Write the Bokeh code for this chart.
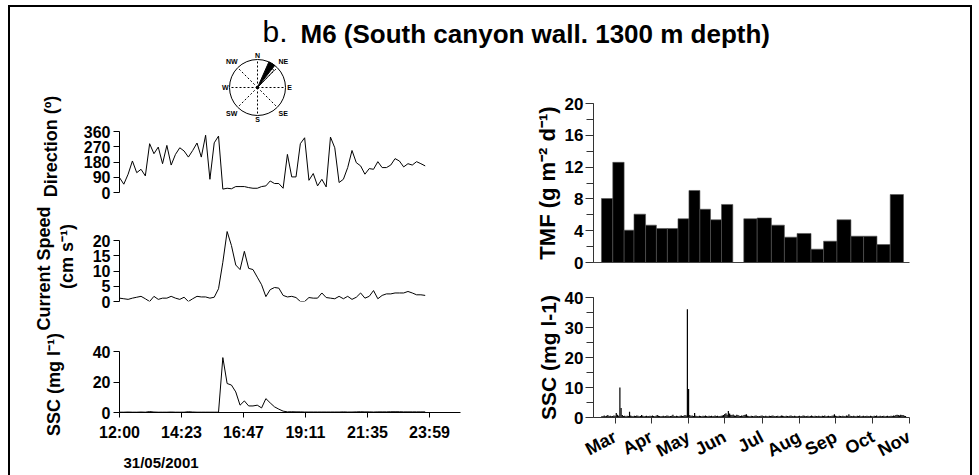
import math
from datetime import date
from bokeh.plotting import figure
from bokeh.layouts import column, row
from bokeh.models import Range1d, FixedTicker, SingleIntervalTicker, Label, Spacer
from bokeh.embed import file_html
from bokeh.resources import INLINE
from bokeh.core.properties import value

FONT = "Liberation Sans"

# ---------------- data ----------------
title_letter = "b."
title_text = "M6 (South canyon wall. 1300 m depth)"

record_date = "31/05/2001"
start_minute = 720          # 12:00
step_minutes = 10
direction_deg = [88, 49, 108, 186, 117, 137, 98, 288, 229, 268,
                 170, 278, 162, 225, 264, 245, 209, 248, 292, 209,
                 338, 78, 293, 333, 20, 25, 22, 35, 35, 35,
                 29, 25, 25, 35, 39, 68, 53, 53, 25, 225,
                 92, 92, 288, 323, 72, 112, 39, 78, 33, 327,
                 264, 59, 78, 147, 248, 176, 157, 108, 141, 137,
                 182, 147, 147, 162, 200, 186, 151, 170, 162, 182,
                 170, 157]
speed_cms = [1.1, 0.9, 0.7, 1.1, 1.4, 1.7, 0.9, 0.0, 1.7, 0.7,
             1.1, 1.1, 1.7, 1.1, 0.7, 1.4, 0.0, 0.9, 1.7, 1.5,
             1.5, 1.1, 1.4, 4.2, 12.9, 23.0, 18.4, 12.0, 10.5, 16.5,
             10.9, 10.5, 8.0, 5.5, 1.6, 3.9, 4.6, 4.4, 2.0, 1.5,
             1.7, 1.3, 0.0, 0.0, 1.3, 1.1, 1.1, 2.8, 1.3, 1.1,
             0.9, 1.7, 0.9, 1.7, 0.7, 1.4, 2.8, 1.1, 1.7, 3.6,
             0.9, 2.0, 2.5, 2.5, 2.8, 2.8, 2.8, 3.3, 2.8, 2.2,
             2.2, 2.0]
ssc_event = [0.2, 0.2, 0.3, 0.2, 0.2, 0.3, 0.2, 0.6, 0.3, 0.2,
             0.2, 0.2, 0.3, 0.2, 0.2, 0.2, 0.5, 0.3, 0.2, 0.2,
             0.2, 0.2, 0.2, 0.2, 36.0, 19.0, 18.0, 13.5, 4.8, 7.6,
             4.3, 4.3, 4.8, 3.0, 9.1, 6.3, 3.7, 2.2, 0.9, 0.4,
             0.5, 0.4, 0.4, 0.3, 0.3, 0.3, 0.3, 0.3, 0.3, 0.3,
             0.3, 0.3, 0.4, 0.3, 0.3, 0.4, 0.5, 0.4, 0.4, 0.3,
             0.4, 0.4, 0.4, 0.5, 0.5, 0.5, 0.4, 0.4, 0.4, 0.4,
             0.4, 0.4]
time_tick_minutes = [720, 864, 1008, 1152, 1296, 1440]
time_tick_labels = ["12:00", "14:23", "16:47", "19:11", "21:35", "23:59"]
direction_ticks = [0, 90, 180, 270, 360]
speed_ticks = [0, 5, 10, 15, 20]
ssc_event_ticks = [0, 20, 40]
left_titles = ["Direction (º)", "Current Speed", "(cm s⁻¹)", "SSC (mg l⁻¹)"]

compass_points = ["N", "NE", "E", "SE", "S", "SW", "W", "NW"]
compass_bearings = [0, 45, 90, 135, 180, 225, 270, 315]
rose_from = [24, 38]
rose_to = [38, 44]
rose_length = [1.0, 0.85]

tmf_start_doy = [79.7, 89.1, 98.5, 106.7, 116.3, 125.3, 134.4, 143.2, 152.3, 161.4, 170.2, 179.3,
                 197.8, 208.9, 220.7, 231.5, 242.0, 253.6, 264.0, 275.1, 286.7, 297.2, 308.3, 319.3]
tmf_end_doy = [89.1, 98.5, 106.7, 116.3, 125.3, 134.4, 143.2, 152.3, 161.4, 170.2, 179.3, 188.7,
               208.9, 220.7, 231.5, 242.0, 253.6, 264.0, 275.1, 286.7, 297.2, 308.3, 319.3, 330.3]
tmf_flux = [8.05, 12.6, 4.07, 6.08, 4.7, 4.28, 4.28, 5.5, 9.06, 6.7, 5.37, 7.3,
            5.5, 5.6, 4.7, 3.19, 3.65, 1.68, 2.68, 5.37, 3.31, 3.31, 2.26, 8.55]

ssc_first_doy = 80
ssc_daily = [0.4, 0.5, 0.7, 0.4, 0.6, 0.8, 0.5, 0.6, 0.4, 0.5,
             0.7, 0.6, 1.5, 0.9, 0.6, 10.0, 3.2, 0.8, 0.5, 0.6,
             0.4, 0.6, 0.5, 1.9, 0.7, 0.5, 0.4, 0.6, 0.5, 0.7,
             0.6, 0.4, 0.5, 0.8, 0.6, 0.4, 0.5, 0.6, 0.4, 0.5,
             0.6, 0.5, 0.7, 0.5, 0.4, 0.6, 0.8, 0.6, 0.5, 0.4,
             0.5, 0.6, 0.4, 0.5, 0.7, 0.6, 0.4, 0.5, 0.6, 0.9,
             0.5, 0.4, 0.6, 0.5, 0.4, 0.6, 0.7, 0.5, 0.6, 0.8,
             0.7, 36.1, 9.5, 0.8, 0.6, 0.7, 0.5, 1.5, 0.6, 0.5,
             0.4, 0.6, 0.5, 0.4, 0.6, 0.5, 0.7, 0.5, 0.4, 0.6,
             0.5, 0.6, 0.4, 0.5, 0.7, 0.5, 0.6, 0.4, 0.5, 0.6,
             0.7, 0.8, 1.2, 1.4, 0.9, 2.2, 1.3, 0.9, 0.8, 1.0,
             0.7, 0.6, 0.9, 0.8, 0.6, 0.5, 0.7, 0.6, 0.8, 0.9,
             1.1, 0.6, 0.5, 0.4, 0.6, 0.5, 0.4, 0.6, 0.7, 0.5,
             0.4, 0.5, 0.6, 0.7, 0.5, 0.4, 0.6, 0.5, 0.4, 0.6,
             0.5, 0.6, 0.7, 0.5, 0.4, 0.5, 0.6, 0.4, 0.5, 0.7,
             0.6, 0.5, 0.4, 0.6, 0.5, 0.4, 0.6, 0.7, 0.5, 0.4,
             0.6, 0.5, 0.4, 0.5, 0.6, 0.4, 0.5, 0.7, 0.6, 0.4,
             0.5, 0.6, 0.4, 0.5, 0.7, 0.5, 0.4, 0.6, 0.5, 0.4,
             0.6, 0.5, 0.4, 0.6, 0.5, 0.7, 0.4, 0.5, 0.6, 0.4,
             0.5, 0.6, 0.7, 1.1, 0.6, 0.5, 0.4, 0.6, 0.5, 0.4,
             0.6, 0.5, 0.4, 0.7, 0.6, 1.1, 0.6, 0.5, 0.4, 0.6,
             0.5, 0.4, 0.6, 0.5, 0.7, 0.4, 0.5, 0.6, 0.4, 0.5,
             0.6, 0.5, 0.4, 0.6, 0.5, 0.4, 0.6, 0.5, 0.7, 0.4,
             0.5, 0.6, 0.4, 0.5, 0.6, 0.4, 0.5, 0.6, 0.4, 0.5,
             0.6, 0.5, 0.7, 0.6, 0.8, 0.9, 0.8, 0.7, 0.9, 0.8,
             0.8, 0.6, 0.5]
month_labels = ["Mar", "Apr", "May", "Jun", "Jul", "Aug", "Sep", "Oct", "Nov"]
month_end_ticks = [date(2001, m, 1).timetuple().tm_yday for m in range(4, 13)]

# ---------------- helpers ----------------
minutes = [start_minute + step_minutes * i for i in range(len(direction_deg))]
ssc_days = [ssc_first_doy + i for i in range(len(ssc_daily))]


def blank(w, h, xr, yr):
    p = figure(width=w, height=h, x_range=xr, y_range=yr, min_border=0, title=None,
               x_axis_location=None, y_axis_location=None, output_backend="svg",
               toolbar_location=None, frame_align=False)
    p.grid.visible = False
    p.outline_line_color = None
    return p


def panel(w, h, xr, yr, bl, br, bt, bb, xaxis=True):
    p = figure(width=w, height=h, x_range=xr, y_range=yr, output_backend="svg", title=None,
               toolbar_location=None, x_axis_location="below" if xaxis else None,
               y_axis_location="left", min_border_left=bl, min_border_right=br,
               min_border_top=bt, min_border_bottom=bb)
    p.grid.visible = False
    p.outline_line_color = None
    return p


def style_axis(ax, size, color="black", label_size="18px"):
    ax.axis_line_color = color
    ax.axis_line_width = 1
    ax.major_tick_line_color = color
    ax.minor_tick_line_color = color
    ax.major_tick_in = 0
    ax.minor_tick_in = 0
    ax.major_label_text_font = FONT
    ax.major_label_text_font_style = "bold"
    ax.major_label_text_font_size = size
    ax.major_label_text_color = "black"
    ax.axis_label_text_font = FONT
    ax.axis_label_text_font_style = "bold"
    ax.axis_label_text_font_size = label_size
    ax.axis_label_text_color = "black"


def txt(p, x, y, s, size, bold=True, angle=0.0, align="center", baseline="middle"):
    p.add_layout(Label(x=x, y=y, text=s, text_font=FONT, text_font_size=size,
                       text_font_style="bold" if bold else "normal", text_color="black",
                       angle=angle, text_align=align, text_baseline=baseline))


# title strip (page y 7..50)
TH = 43
title_p = blank(960, TH, Range1d(0, 960), Range1d(0, TH))
txt(title_p, 252, 19, title_letter, "30px", bold=False, align="left", baseline="middle")
txt(title_p, 290, 17, title_text, "26px", align="left", baseline="middle")

# left axis titles strip (page y 50..475)
LH = 425
lab_p = blank(70, LH, Range1d(0, 70), Range1d(0, LH))
txt(lab_p, 40, 329, left_titles[0], "18px", angle=math.pi / 2)
txt(lab_p, 33, 207, left_titles[1], "18px", angle=math.pi / 2)
txt(lab_p, 56, 219, left_titles[2], "18px", angle=math.pi / 2)
txt(lab_p, 43, 91, left_titles[3], "18px", angle=math.pi / 2)

# compass rose (page y 50..123)
R = 28.0
cw, ch, cy = 110, 73, 37
comp = blank(cw, ch, Range1d(-cw / 2 / R, cw / 2 / R), Range1d(-(ch - cy) / R, cy / R))
bx = [math.sin(math.radians(b)) for b in compass_bearings]
by = [math.cos(math.radians(b)) for b in compass_bearings]
comp.segment(x0=[0] * 8, y0=[0] * 8, x1=bx, y1=by, line_color="black", line_width=1, line_dash="2 2")
comp.wedge(x=[0, 0], y=[0, 0], radius=rose_length,
           start_angle=[math.radians(90 - b) for b in rose_to],
           end_angle=[math.radians(90 - b) for b in rose_from],
           fill_color=["black", "white"], line_color="black", line_width=1)
comp.circle(x=[0], y=[0], radius=1, fill_color=None, line_color="black", line_width=1)
lr = [1.15 if len(s) == 1 else 1.3 for s in compass_points]
comp.text(x=[r * v for r, v in zip(lr, bx)], y=[r * v for r, v in zip(lr, by)], text=compass_points,
          text_font=value(FONT), text_font_style="bold", text_font_size="7px",
          text_align="center", text_baseline="middle", text_color="black")

LX = Range1d(720, 1512)
PW, BL, BR = 430, 36, 50

# direction (page y 123..205)
dir_p = panel(PW, 82, LX, Range1d(0, 360), BL, BR, 8, 13, xaxis=False)
dir_p.line(minutes, direction_deg, line_color="black", line_width=1)
dir_p.yaxis.ticker = FixedTicker(ticks=direction_ticks, minor_ticks=[])
style_axis(dir_p.yaxis[0], "16px")
dir_p.yaxis.major_tick_out = 6
dir_p.yaxis.major_label_standoff = 3

# speed (page y 205..310)
spd_p = panel(PW, 105, LX, Range1d(0, 24), BL, BR, 23, 9, xaxis=False)
spd_p.line(minutes, speed_cms, line_color="black", line_width=1)
spd_p.yaxis.ticker = FixedTicker(ticks=speed_ticks, minor_ticks=[])
spd_p.yaxis.bounds = (0, 20)
style_axis(spd_p.yaxis[0], "16px")
spd_p.yaxis.major_tick_out = 6
spd_p.yaxis.major_label_standoff = 3

# ssc event (page y 310..447)
sscl_p = panel(PW, 137, LX, Range1d(0, 40), BL, BR, 41, 35)
sscl_p.line(minutes, ssc_event, line_color="black", line_width=1)
sscl_p.yaxis.ticker = FixedTicker(ticks=ssc_event_ticks, minor_ticks=[])
sscl_p.xaxis.ticker = FixedTicker(ticks=time_tick_minutes, minor_ticks=[])
sscl_p.xaxis.major_label_overrides = dict(zip(time_tick_minutes, time_tick_labels))
style_axis(sscl_p.yaxis[0], "16px")
style_axis(sscl_p.xaxis[0], "16px")
sscl_p.yaxis.major_tick_out = 6
sscl_p.yaxis.major_label_standoff = 3
sscl_p.xaxis.major_tick_out = 5
sscl_p.xaxis.major_label_standoff = 6

date_p = blank(PW, 28, Range1d(0, PW), Range1d(0, 28))
txt(date_p, 43, 13, record_date, "15px", align="left")

# TMF (page y 50..280)
RX = Range1d(73.1, 335.3)
tmf_p = panel(460, 230, RX, Range1d(0, 20), 83, 61, 53, 18)
tmf_p.quad(left=tmf_start_doy, right=tmf_end_doy, bottom=0, top=tmf_flux,
           fill_color="black", line_color="#555555", line_width=0.6)
tmf_p.yaxis.ticker = SingleIntervalTicker(interval=4, num_minor_ticks=2)
tmf_p.xaxis.ticker = FixedTicker(ticks=[], minor_ticks=[])
style_axis(tmf_p.yaxis[0], "17px", color="#333333", label_size="22px")
style_axis(tmf_p.xaxis[0], "16px", color="#444444")
tmf_p.yaxis.major_tick_out = 8
tmf_p.yaxis.minor_tick_out = 7
tmf_p.yaxis.major_label_standoff = 2
tmf_p.yaxis.axis_label = "TMF (g m⁻² d⁻¹)"
tmf_p.yaxis.axis_label_standoff = 2

# SSC mooring series (page y 280..475)
sscr_p = panel(460, 195, RX, Range1d(0, 40), 83, 61, 17, 58)
sscr_p.segment(x0=ssc_days, y0=[0] * len(ssc_days), x1=ssc_days, y1=ssc_daily,
               line_color="black", line_width=1.2)
sscr_p.yaxis.ticker = SingleIntervalTicker(interval=10, num_minor_ticks=2)
sscr_p.xaxis.ticker = FixedTicker(ticks=month_end_ticks, minor_ticks=[])
sscr_p.xaxis.major_label_overrides = dict(zip(month_end_ticks, month_labels))
style_axis(sscr_p.yaxis[0], "17px", color="#333333", label_size="21px")
style_axis(sscr_p.xaxis[0], "18px", color="#333333")
sscr_p.yaxis.major_tick_out = 8
sscr_p.yaxis.minor_tick_out = 7
sscr_p.yaxis.major_label_standoff = 2
sscr_p.xaxis.major_tick_out = 6
sscr_p.xaxis.major_label_standoff = 12
sscr_p.xaxis.major_label_orientation = math.radians(28)
sscr_p.yaxis.axis_label = "SSC (mg l-1)"
sscr_p.yaxis.axis_label_standoff = 2

panels = column(row(Spacer(width=122, height=73), comp), dir_p, spd_p, sscl_p, date_p)
left_col = row(lab_p, panels)
right_col = column(tmf_p, sscr_p)
root = column(title_p, row(left_col, right_col), margin=(5, 0, 0, 8),
              styles={"border-top": "2px solid black", "border-left": "2px solid black",
                      "border-right": "2px solid black"})

open("out.html", "w").write(file_html(root, INLINE))
